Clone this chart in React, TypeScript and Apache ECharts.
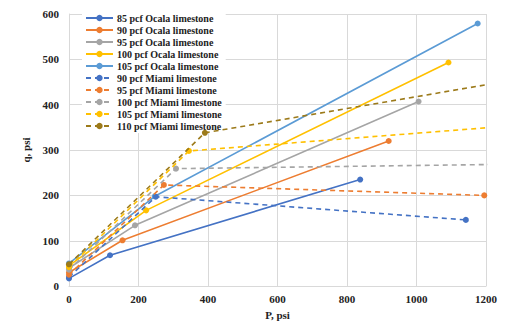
import React, { useEffect, useRef } from "react";
import * as echarts from "echarts";

const seriesNames = [
  "85 pcf Ocala limestone",
  "90 pcf Ocala limestone",
  "95 pcf Ocala limestone",
  "100 pcf Ocala limestone",
  "105 pcf Ocala limestone",
  "90 pcf Miami limestone",
  "95 pcf Miami limestone",
  "100 pcf Miami limestone",
  "105 pcf Miami limestone",
  "110 pcf Miami limestone",
];

const ocala85 = [[0, 17], [118, 68], [838, 235]];
const ocala90 = [[0, 30], [154, 101], [920, 320]];
const ocala95 = [[0, 40], [190, 134], [1006, 407]];
const ocala100 = [[0, 45], [222, 167], [1092, 493]];
const ocala105 = [[0, 50], [247, 198], [1176, 579]];
const miami90 = [[0, 20], [250, 197], [1142, 146]];
const miami95 = [[0, 25], [273, 223], [1195, 200]];
const miami100 = [[0, 36], [308, 259], [1300, 269]];
const miami105 = [[0, 42], [345, 298], [1300, 355]];
const miami110 = [[0, 48], [391, 338], [1300, 457]];

const seriesData = [ocala85, ocala90, ocala95, ocala100, ocala105, miami90, miami95, miami100, miami105, miami110];
const seriesColors = ["#4472C4", "#ED7D31", "#A5A5A5", "#FFC000", "#5B9BD5", "#4472C4", "#ED7D31", "#A5A5A5", "#FFC000", "#9C7A1A"];
const dashed = [false, false, false, false, false, true, true, true, true, true];

const xTicks = { min: 0, max: 1200, interval: 200 };
const yTicks = { min: 0, max: 600, interval: 100 };

const FONT = "Liberation Serif";

export default function App() {
  const ref = useRef<HTMLDivElement>(null);
  useEffect(() => {
    const chart = echarts.init(ref.current!, undefined, { renderer: "svg" });
    chart.setOption({
      animation: false,
      grid: { left: 69, right: 31, top: 14, bottom: 37, containLabel: false },
      legend: {
        orient: "vertical",
        left: 82,
        top: 12,
        itemWidth: 27,
        itemHeight: 8,
        itemGap: 2,
        padding: [1, 4, 2, 3],
        backgroundColor: "#ffffff",
        textStyle: { fontFamily: FONT, fontWeight: "bold", fontSize: 10, lineHeight: 10, color: "#222", padding: [0, 0, 0, -1] },
        data: seriesNames,
      },
      xAxis: {
        type: "value",
        min: xTicks.min,
        max: xTicks.max,
        interval: xTicks.interval,
        name: "P, psi",
        nameLocation: "middle",
        nameGap: 22,
        nameTextStyle: { fontFamily: FONT, fontWeight: "bold", fontSize: 11, color: "#222" },
        axisLine: { show: true, lineStyle: { color: "#d9d9d9" } },
        axisTick: { show: false },
        axisLabel: { fontFamily: FONT, fontWeight: "bold", fontSize: 11, color: "#222", margin: 7, formatter: (v: number) => String(v) },
        splitLine: { show: true, lineStyle: { color: "#d9d9d9", width: 1 } },
      },
      yAxis: {
        type: "value",
        min: yTicks.min,
        max: yTicks.max,
        interval: yTicks.interval,
        name: "q, psi",
        nameLocation: "middle",
        nameGap: 36,
        nameTextStyle: { fontFamily: FONT, fontWeight: "bold", fontSize: 11, color: "#222" },
        axisLine: { show: true, lineStyle: { color: "#d9d9d9" } },
        axisTick: { show: false },
        axisLabel: { fontFamily: FONT, fontWeight: "bold", fontSize: 11, color: "#222", margin: 10, formatter: (v: number) => String(v) },
        splitLine: { show: true, lineStyle: { color: "#d9d9d9", width: 1 } },
      },
      series: seriesNames.map((name, i) => ({
        name,
        type: "line",
        data: seriesData[i],
        symbol: "circle",
        symbolSize: 6,
        clip: true,
        z: 2 + i,
        itemStyle: { color: seriesColors[i] },
        lineStyle: { color: seriesColors[i], width: 1.6, type: dashed[i] ? [5, 4] : "solid" },
      })),
    });
    return () => chart.dispose();
  }, []);
  return <div ref={ref} style={{ width: 517, height: 325, marginLeft: -8, marginTop: -8 }} />;
}
